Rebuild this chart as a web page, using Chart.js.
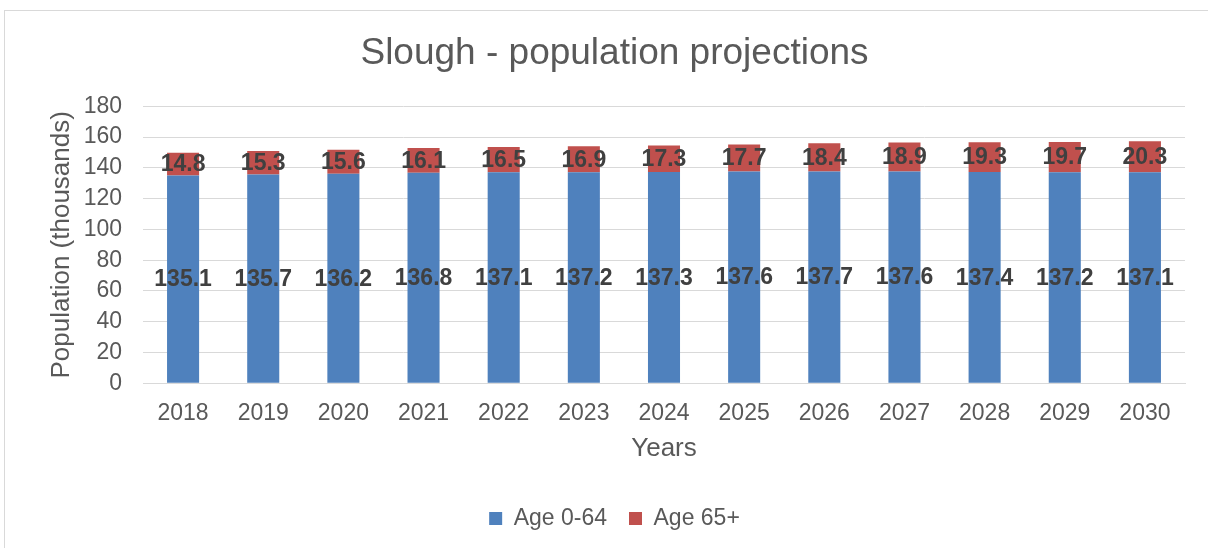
<!DOCTYPE html>
<html>
<head>
<meta charset="utf-8">
<script src="https://cdn.jsdelivr.net/npm/chart.js@4"></script>
<style>
  body { margin: 0; background: #fff; }
  #wrap { position: relative; width: 1208px; height: 548px; overflow: hidden; }
  #frame { position: absolute; left: 4px; top: 10px; width: 1230px; height: 600px; border: 1px solid #d9d9d9; }
  canvas { position: absolute; left: 0; top: 0; }
</style>
</head>
<body>
<div id="wrap">
  <div id="frame"></div>
  <canvas id="chart" width="1208" height="548"></canvas>
</div>
<script>
const years = ['2018','2019','2020','2021','2022','2023','2024','2025','2026','2027','2028','2029','2030'];
const age0to64 = [135.1,135.7,136.2,136.8,137.1,137.2,137.3,137.6,137.7,137.6,137.4,137.2,137.1];
const age65plus = [14.8,15.3,15.6,16.1,16.5,16.9,17.3,17.7,18.4,18.9,19.3,19.7,20.3];
const yTicks = [0,20,40,60,80,100,120,140,160,180];

const font = 'Liberation Sans, Arial, sans-serif';
const grey = '#595959';

// values written in the middle of each bar segment
const barLabels = {
    id: 'barLabels',
    afterDatasetsDraw(chart) {
        const ctx = chart.ctx;
        ctx.save();
        ctx.font = 'bold 23px ' + font;
        ctx.fillStyle = '#404040';
        ctx.textAlign = 'center';
        ctx.textBaseline = 'middle';
        chart.data.datasets.forEach((ds, i) => {
            chart.getDatasetMeta(i).data.forEach((bar, j) => {
                const mid = (bar.y + bar.base) / 2;
                ctx.fillText(ds.data[j].toFixed(1), bar.x, mid + 1);
            });
        });
        ctx.restore();
    }
};

new Chart(document.getElementById('chart'), {
    type: 'bar',
    data: {
        labels: years,
        datasets: [
            { label: 'Age 0-64', data: age0to64, backgroundColor: '#4F81BD' },
            { label: 'Age 65+', data: age65plus, backgroundColor: '#C0504D' }
        ]
    },
    options: {
        responsive: false,
        animation: false,
        events: [],
        layout: { padding: { left: 44, right: 23, top: 20, bottom: 8 } },
        datasets: { bar: { categoryPercentage: 1, barPercentage: 0.4 } },
        scales: {
            x: {
                stacked: true,
                afterFit: axis => { axis.height = axis.height - 12; },
                grid: { display: false },
                border: { color: '#d9d9d9' },
                ticks: { color: grey, font: { family: font, size: 23 }, padding: 9 },
                title: { display: true, text: 'Years', color: grey, font: { family: font, size: 26 }, padding: { top: 8, bottom: 21 } }
            },
            y: {
                stacked: true,
                min: 0,
                max: 180,
                afterBuildTicks: axis => { axis.ticks = yTicks.map(v => ({ value: v })); },
                afterFit: axis => { axis.width = 99; },
                grid: { color: '#d9d9d9', drawTicks: false },
                border: { display: false },
                ticks: { color: grey, font: { family: font, size: 23 }, padding: 21, autoSkip: false },
                title: { display: true, text: 'Population (thousands)', color: grey, font: { family: font, size: 26 }, padding: { top: 2, bottom: 0 } }
            }
        },
        plugins: {
            title: {
                display: true,
                text: 'Slough - population projections',
                color: grey,
                font: { family: font, size: 37, weight: 'normal' },
                padding: { top: 12, bottom: 30 }
            },
            legend: {
                position: 'bottom',
                labels: { color: grey, font: { family: font, size: 23 }, boxWidth: 13, boxHeight: 13, padding: 22 }
            },
            tooltip: { enabled: false }
        }
    },
    plugins: [barLabels]
});
</script>
</body>
</html>
